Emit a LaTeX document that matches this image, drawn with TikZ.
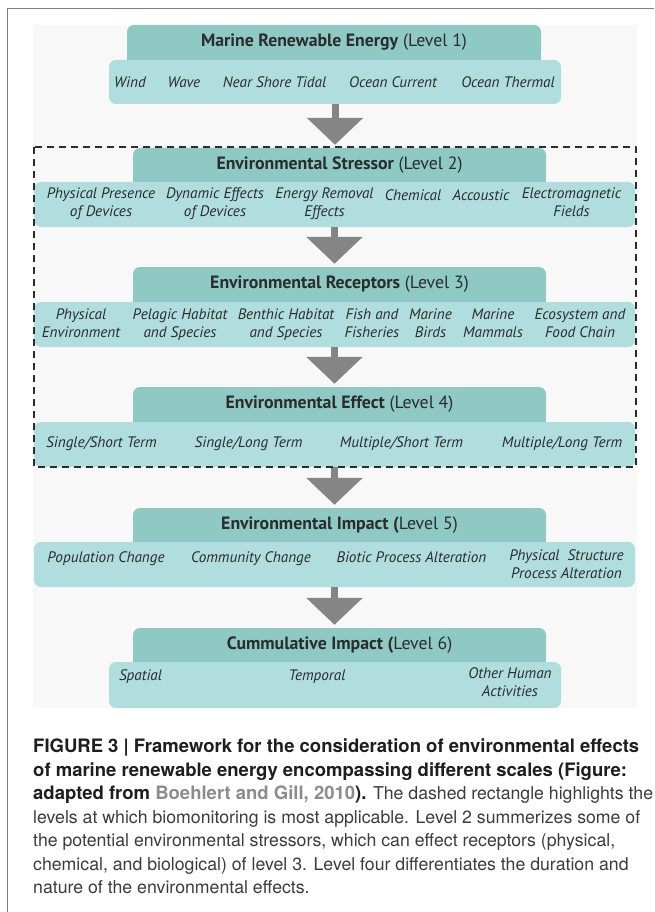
\documentclass[tikz,border=0pt]{standalone}
\usepackage{fontspec}
\setmainfont{TeX Gyre Heros}
\newfontfamily\diafont{PT Sans}
\usetikzlibrary{arrows.meta}
\definecolor{hdrteal}{HTML}{8EC9C3}
\definecolor{itmteal}{HTML}{B0DDDD}
\definecolor{panelgray}{HTML}{F8F8F8}
\definecolor{arrowgray}{HTML}{858585}
\definecolor{inkgray}{HTML}{2C2C2C}
\definecolor{capink}{HTML}{1E1E1E}
\definecolor{capsoft}{HTML}{3C3C3C}
\definecolor{linkgray}{HTML}{8C8C8C}
\definecolor{framegray}{HTML}{7F7F7F}
\newcommand{\capbold}[1]{{\fontsize{18.5}{23.5}\selectfont\bfseries\color{capink}#1}}

\begin{document}
\begin{tikzpicture}[line join=round,x=1pt,y=-1pt,
    hdrbox/.style={fill=hdrteal,rounded corners=7pt,inner sep=0pt,text=inkgray,
      font=\diafont\fontsize{17.8}{21}\selectfont},
    itmbox/.style={fill=itmteal,rounded corners=7pt,inner sep=0pt},
    itmtxt/.style={inner sep=0pt,anchor=north,yshift=12.6pt,align=center,text=inkgray,
      font=\diafont\itshape\fontsize{15.2}{18}\selectfont,execute at begin node=\strut},
    flowarrow/.style={draw=arrowgray,line cap=butt,line width=7pt,
      -{Triangle[length=27pt,width=55pt]},shorten >=3pt},
    focusbox/.style={draw=inkgray,line width=2pt,dash pattern=on 7pt off 5pt},
    captxt/.style={inner sep=0pt,anchor=north west,yshift=16.45pt,align=left,text=capsoft,
      font=\fontsize{17.7}{23.5}\selectfont,execute at begin node=\strut}]
  \useasboundingbox (0,0) rectangle (654,912);
  \fill[white] (0,0) rectangle (654,912);
  \draw[framegray,line width=1.5pt] (7.3,912) -- (7.3,8.3) -- (654,8.3);
  \fill[panelgray] (33,25) rectangle (637,708);
  % level 1
  \node[hdrbox,minimum width=414pt,minimum height=35pt] (hdrA) at (334,42.5) {\textbf{Marine Renewable Energy} (Level 1)};
  \fill[hdrteal] ([yshift=8pt]hdrA.south west) rectangle (hdrA.south east);
  \node[itmbox,minimum width=452pt,minimum height=44pt] (itmA) at (335,82) {};
  \node[itmtxt] at (130,87) {Wind};
  \node[itmtxt] at (184,87) {Wave};
  \node[itmtxt] at (274.5,87) {Near Shore Tidal};
  \node[itmtxt] at (393,87) {Ocean Current};
  \node[itmtxt] at (508,87) {Ocean Thermal};
  % level 2
  \node[hdrbox,minimum width=413pt,minimum height=34pt] (hdrB) at (339.5,165) {\textbf{Environmental Stressor} (Level 2)};
  \fill[hdrteal] ([yshift=8pt]hdrB.south west) rectangle (hdrB.south east);
  \node[itmbox,minimum width=601pt,minimum height=45pt] (itmB) at (334.5,204.5) {};
  \node[itmtxt] at (101,200) {Physical Presence\\of Devices};
  \node[itmtxt] at (215,200) {Dynamic Effects\\of Devices};
  \node[itmtxt] at (324.5,200) {Energy Removal\\Effects};
  \node[itmtxt] at (413,200) {Chemical};
  \node[itmtxt] at (481,200) {Accoustic};
  \node[itmtxt] at (571.5,200) {Electromagnetic\\Fields};
  % level 3
  \node[hdrbox,minimum width=413pt,minimum height=35pt] (hdrC) at (339.5,284.5) {\textbf{Environmental Receptors} (Level 3)};
  \fill[hdrteal] ([yshift=8pt]hdrC.south west) rectangle (hdrC.south east);
  \node[itmbox,minimum width=601pt,minimum height=45pt] (itmC) at (334.5,324.5) {};
  \node[itmtxt] at (81,321.5) {Physical\\Environment};
  \node[itmtxt] at (180,321.5) {Pelagic Habitat\\and Species};
  \node[itmtxt] at (286,321.5) {Benthic Habitat\\and Species};
  \node[itmtxt] at (372,321.5) {Fish and\\Fisheries};
  \node[itmtxt] at (430.5,321.5) {Marine\\Birds};
  \node[itmtxt] at (493,321.5) {Marine\\Mammals};
  \node[itmtxt] at (580,321.5) {Ecosystem and\\Food Chain};
  % level 4
  \node[hdrbox,minimum width=413pt,minimum height=35pt] (hdrD) at (339.5,404.5) {\textbf{Environmental Effect} (Level 4)};
  \fill[hdrteal] ([yshift=8pt]hdrD.south west) rectangle (hdrD.south east);
  \node[itmbox,minimum width=601pt,minimum height=45pt] (itmD) at (334.5,444.5) {};
  \node[itmtxt] at (101.5,447) {Single/Short Term};
  \node[itmtxt] at (248.5,447) {Single/Long Term};
  \node[itmtxt] at (401.5,447) {Multiple/Short Term};
  \node[itmtxt] at (562,447) {Multiple/Long Term};
  % level 5
  \node[hdrbox,minimum width=413pt,minimum height=34pt] (hdrE) at (339.5,525) {\textbf{Environmental Impact (}Level 5)};
  \fill[hdrteal] ([yshift=8pt]hdrE.south west) rectangle (hdrE.south east);
  \node[itmbox,minimum width=601pt,minimum height=45pt] (itmE) at (334.5,564.5) {};
  \node[itmtxt] at (106,562) {Population Change};
  \node[itmtxt] at (251,562) {Community Change};
  \node[itmtxt] at (411.5,562) {Biotic Process Alteration};
  \node[itmtxt] at (566.5,562) {Physical\ \ Structure\\Process Alteration};
  % level 6
  \node[hdrbox,minimum width=413pt,minimum height=34pt] (hdrF) at (339.5,645) {\textbf{Cummulative Impact (}Level 6)};
  \fill[hdrteal] ([yshift=8pt]hdrF.south west) rectangle (hdrF.south east);
  \node[itmbox,minimum width=452pt,minimum height=46pt] (itmF) at (335,685) {};
  \node[itmtxt] at (140.5,680) {Spatial};
  \node[itmtxt] at (317,680) {Temporal};
  \node[itmtxt] at (510,680) {Other Human\\Activities};
  % arrows between the levels
  \draw[flowarrow] (itmA.south) -- (itmA.south |- hdrB.north);
  \draw[flowarrow] (itmB.south) -- (itmB.south |- hdrC.north);
  \draw[flowarrow] (itmC.south) -- (itmC.south |- hdrD.north);
  \draw[flowarrow] (itmD.south) -- (itmD.south |- hdrE.north);
  \draw[flowarrow] (itmE.south) -- (itmE.south |- hdrF.north);
  % levels 2 to 4
  \draw[focusbox] (34,147) rectangle (636,467);
  % caption
  \node[captxt] (caption) at (33,755) {\capbold{FIGURE 3 | Framework for the consideration of environmental effects}\\
    \capbold{of marine renewable energy encompassing different scales (Figure:}\\
    \capbold{adapted from \textcolor{linkgray}{Boehlert and Gill, 2010}).} The dashed rectangle highlights the\\
    levels at which biomonitoring is most applicable. Level 2 summerizes some of\\
    the potential environmental stressors, which can effect receptors (physical,\\
    chemical, and biological) of level 3. Level four differentiates the duration and\\
    nature of the environmental effects.};
\end{tikzpicture}
\end{document}
